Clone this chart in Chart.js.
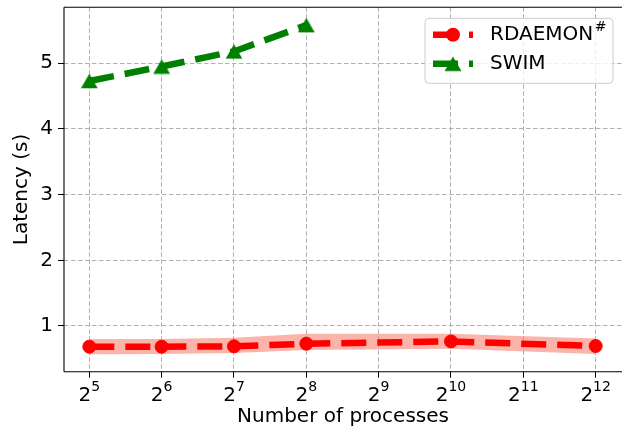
<!DOCTYPE html>
<html>
<head>
<meta charset="utf-8">
<title>Latency vs number of processes</title>
<script src="https://cdn.jsdelivr.net/npm/chart.js@4.4.1/dist/chart.umd.min.js"></script>
<style>
  html, body { margin:0; padding:0; background:#fff; overflow:hidden; }
  #wrap { width:622px; height:430px; }
  canvas { display:block; }
</style>
</head>
<body>
<div id="wrap"><canvas id="latencyChart" width="622" height="430"></canvas></div>
<script>
// ===== Data =====
const procExp = [5, 6, 7, 8, 9, 10, 11, 12];          // x ticks, shown as 2^n
const yTicks = [1, 2, 3, 4, 5];

const rdaemonExp = [5, 6, 7, 8, 10, 12];
const rdaemonLatency = [0.685, 0.685, 0.69, 0.73, 0.765, 0.695];
const rdaemonLow = [0.57, 0.575, 0.59, 0.635, 0.655, 0.575];
const rdaemonHigh = [0.80, 0.80, 0.82, 0.88, 0.88, 0.81];

const swimExp = [5, 6, 7, 8];
const swimLatency = [4.73, 4.95, 5.18, 5.58];

const FONT = '"DejaVu Sans", Verdana, sans-serif';
const RED = '#ff0000';
const GREEN = '#008000';
const GRID = '#b0b0b0';
const DASH = [25, 11];
const NONE = 'rgba(0,0,0,0)';

const pts = (xs, ys) => xs.map((v, i) => ({x: v, y: ys[i]}));
// grid only on the listed ticks
const gridOn = list => c => (c.tick && list.includes(c.tick.value)) ? GRID : NONE;
const tickOn = list => c => (c.tick && list.includes(c.tick.value)) ? '#000' : NONE;

// ===== Triangle marker (centred at mid-height like matplotlib '^') =====
function triangleMarker(color){
  const c = document.createElement('canvas');
  c.width = 18; c.height = 16;
  const g = c.getContext('2d');
  g.fillStyle = color;
  g.beginPath();
  g.moveTo(9, 0.8);
  g.lineTo(17.4, 15.2);
  g.lineTo(0.6, 15.2);
  g.closePath();
  g.fill();
  return c;
}
const greenTri = triangleMarker(GREEN);

// ===== Frame, 2^n tick labels, legend =====
const extras = {
  id: 'extras',
  afterDraw(chart){
    const {ctx, chartArea: a, scales: {x}} = chart;
    ctx.save();

    // top, left and bottom spines (the right one is past the canvas edge)
    ctx.strokeStyle = '#000';
    ctx.lineWidth = 1.1;
    ctx.setLineDash([]);
    ctx.beginPath();
    ctx.moveTo(a.left, a.top);
    ctx.lineTo(a.right, a.top);
    ctx.stroke();
    ctx.beginPath();
    ctx.moveTo(a.left, a.top);
    ctx.lineTo(a.left, a.bottom);
    ctx.stroke();
    ctx.beginPath();
    ctx.moveTo(a.left, a.bottom);
    ctx.lineTo(a.right, a.bottom);
    ctx.stroke();

    // x tick labels
    ctx.fillStyle = '#000';
    ctx.textAlign = 'left';
    ctx.textBaseline = 'alphabetic';
    procExp.forEach(n => {
      const px = x.getPixelForValue(n);
      ctx.font = '20px ' + FONT;
      const w1 = ctx.measureText('2').width;
      ctx.font = '14px ' + FONT;
      const w2 = ctx.measureText(String(n)).width;
      const x0 = px - (w1 + w2) / 2;
      ctx.font = '20px ' + FONT;
      ctx.fillText('2', x0, a.bottom + 29.5);
      ctx.font = '14px ' + FONT;
      ctx.fillText(String(n), x0 + w1, a.bottom + 19.5);
    });

    // legend
    const bw = 188, bh = 65;
    const bx = a.right - 9 - bw, by = a.top + 11;
    ctx.beginPath();
    ctx.roundRect(bx, by, bw, bh, 4);
    ctx.fillStyle = 'rgba(255,255,255,0.8)';
    ctx.fill();
    ctx.strokeStyle = '#cccccc';
    ctx.lineWidth = 1;
    ctx.stroke();

    const rows = [
      {text: 'RDAEMON', sup: '#', color: RED, tri: false},
      {text: 'SWIM', sup: '', color: GREEN, tri: true}
    ];
    rows.forEach((r, i) => {
      const y = by + 16.5 + i * 29;
      ctx.strokeStyle = r.color;
      ctx.lineWidth = 6.5;
      ctx.setLineDash(DASH);
      ctx.beginPath();
      ctx.moveTo(bx + 8, y);
      ctx.lineTo(bx + 48, y);
      ctx.stroke();
      ctx.setLineDash([]);
      if(r.tri){
        ctx.drawImage(greenTri, bx + 28 - 9, y - 8);
      } else {
        ctx.fillStyle = r.color;
        ctx.beginPath();
        ctx.arc(bx + 28, y, 7, 0, Math.PI * 2);
        ctx.fill();
      }
      ctx.fillStyle = '#000';
      ctx.font = '20px ' + FONT;
      ctx.textBaseline = 'middle';
      ctx.fillText(r.text, bx + 65, y);
      if(r.sup){
        const w = ctx.measureText(r.text).width;
        ctx.font = '14px ' + FONT;
        ctx.fillText(r.sup, bx + 65 + w + 1.5, y - 7);
      }
    });

    ctx.restore();
  }
};

// ===== Chart =====
const ctx = document.getElementById('latencyChart').getContext('2d');
new Chart(ctx, {
  type: 'line',
  data: {
    datasets: [
      {
        label: 'RDAEMON#', data: pts(rdaemonExp, rdaemonLatency),
        borderColor: RED, borderWidth: 6.5, borderDash: DASH,
        pointStyle: 'circle', pointRadius: 6.5, pointBorderWidth: 1,
        pointBackgroundColor: RED, pointBorderColor: RED, fill: false, tension: 0
      },
      {
        label: 'SWIM', data: pts(swimExp, swimLatency),
        borderColor: GREEN, borderWidth: 6.5, borderDash: DASH,
        pointStyle: greenTri, pointRadius: 8,
        pointBackgroundColor: GREEN, pointBorderColor: GREEN, fill: false, tension: 0
      },
      {
        label: 'band low', data: pts(rdaemonExp, rdaemonLow),
        borderColor: NONE, backgroundColor: NONE, borderWidth: 0.01, pointRadius: 0, fill: false
      },
      {
        label: 'band high', data: pts(rdaemonExp, rdaemonHigh),
        borderColor: NONE, borderWidth: 0.01, pointRadius: 0,
        fill: '-1', backgroundColor: 'rgba(250,128,114,0.6)'
      }
    ]
  },
  options: {
    responsive: false,
    devicePixelRatio: 1,
    animation: false,
    events: [],
    layout: {autoPadding: false, padding: {top: 7.3, right: 0, bottom: 0, left: 0}},
    plugins: {legend: {display: false}, tooltip: {enabled: false}},
    scales: {
      x: {
        type: 'linear', min: 4.65, max: 12.364,
        afterBuildTicks: s => { s.ticks = procExp.map(v => ({value: v})); },
        afterFit: s => { s.height = 58.3; s.paddingLeft = 0; s.paddingRight = 0; },
        ticks: {display: false},
        grid: {color: gridOn(procExp), lineWidth: 1, tickColor: tickOn(procExp), tickLength: 6, tickWidth: 1, tickBorderDash: []},
        border: {display: false, dash: [4.5, 2.5]},
        title: {display: true, text: 'Number of processes', color: '#000',
                font: {family: FONT, size: 20}, padding: {top: 0, bottom: 1}}
      },
      y: {
        type: 'linear', min: 0.304, max: 5.852,
        afterBuildTicks: s => { s.ticks = yTicks.map(v => ({value: v})); },
        afterFit: s => { s.width = 64; s.paddingTop = 0; s.paddingBottom = 0; },
        ticks: {color: '#000', font: {family: FONT, size: 20}, padding: 5},
        grid: {color: gridOn(yTicks), lineWidth: 1, tickColor: tickOn(yTicks), tickLength: 6, tickWidth: 1, tickBorderDash: []},
        border: {display: false, dash: [4.5, 2.5]},
        title: {display: true, text: 'Latency (s)', color: '#000',
                font: {family: FONT, size: 20}, padding: {top: 10, bottom: 0}}
      }
    }
  },
  plugins: [extras]
});
</script>
</body>
</html>
